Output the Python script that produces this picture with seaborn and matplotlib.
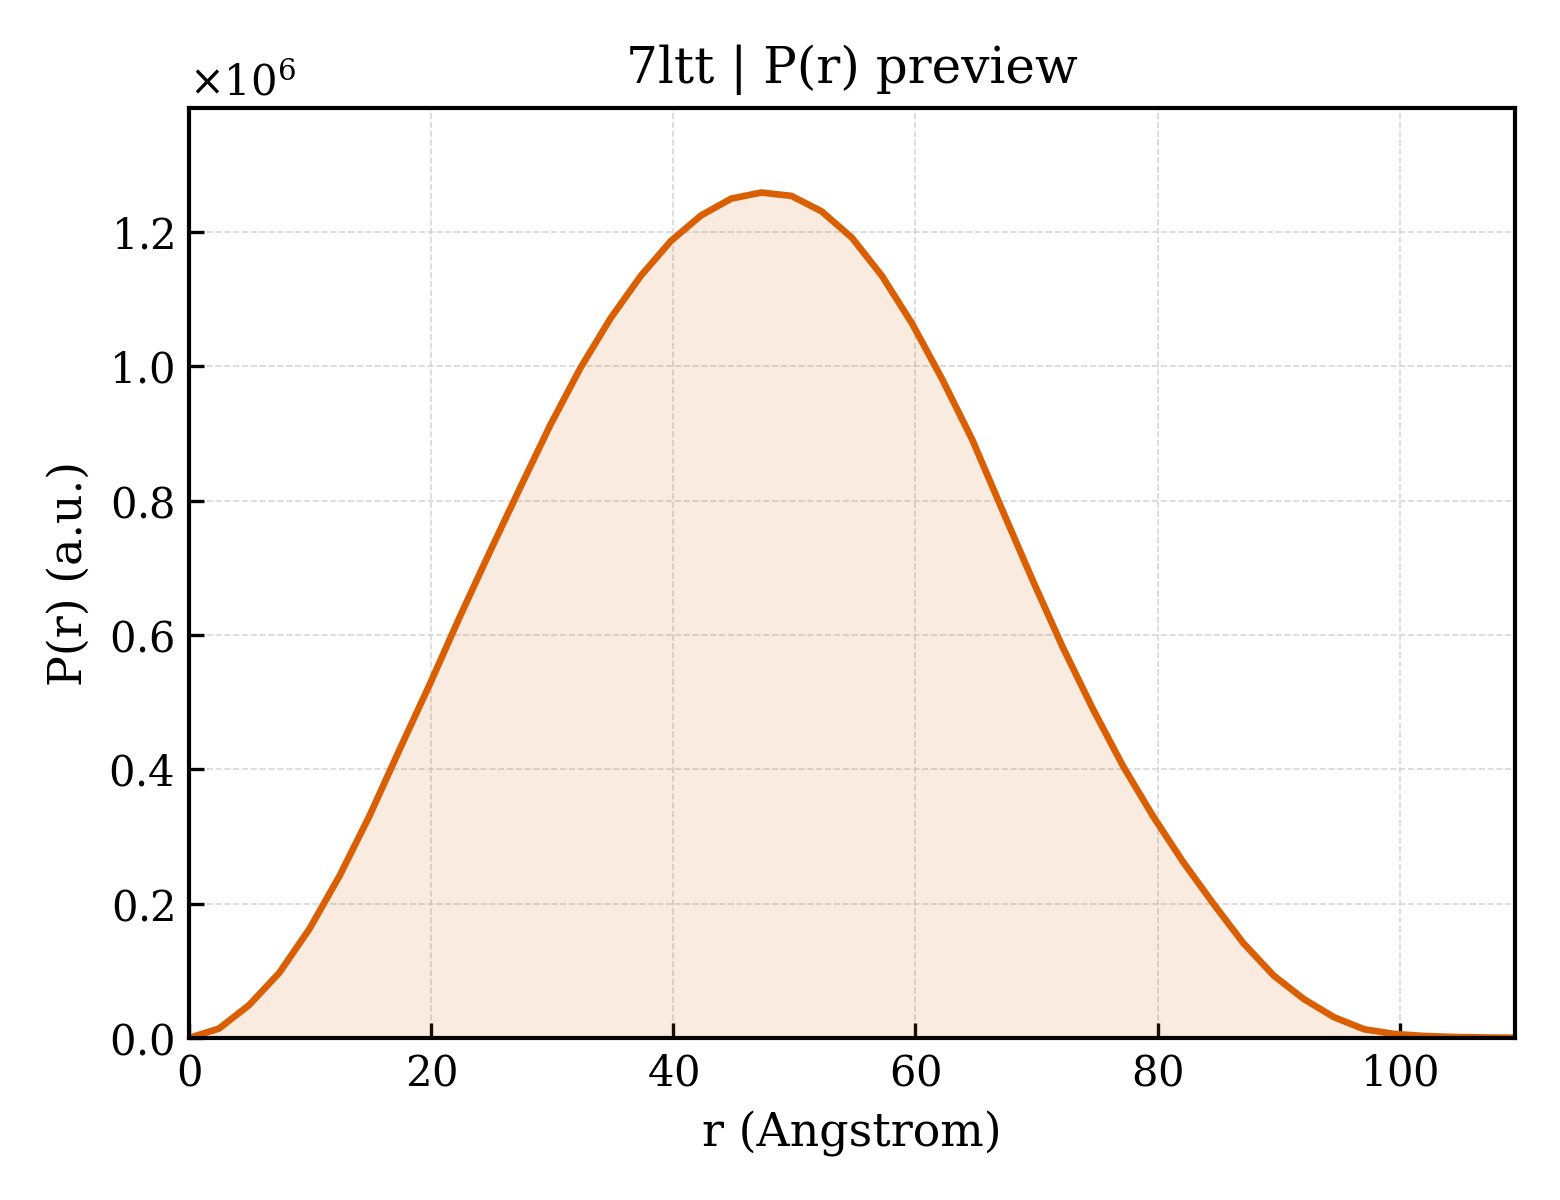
import numpy as np
import pandas as pd
import matplotlib
matplotlib.use("Agg")
import matplotlib.pyplot as plt
import seaborn as sns

# P(r) preview values (P in units of 1e6)
r_angstrom = [0.0, 2.49, 4.98, 7.47, 9.95, 12.44, 14.93, 17.42, 19.91, 22.40,
              24.89, 27.38, 29.86, 32.35, 34.84, 37.33, 39.82, 42.31, 44.80, 47.28,
              49.77, 52.26, 54.75, 57.24, 59.73, 62.22, 64.70, 67.19, 69.68, 72.17,
              74.66, 77.15, 79.64, 82.12, 84.61, 87.10, 89.59, 92.08, 94.57, 97.06,
              99.55, 102.03, 104.52, 107.01, 109.5]
p_r_e6 = [0.0, 0.014, 0.049, 0.097, 0.162, 0.241, 0.331, 0.430, 0.527, 0.628,
          0.725, 0.820, 0.913, 0.998, 1.072, 1.135, 1.187, 1.225, 1.250, 1.259,
          1.254, 1.231, 1.192, 1.135, 1.064, 0.981, 0.891, 0.786, 0.682, 0.582,
          0.490, 0.405, 0.330, 0.262, 0.200, 0.141, 0.093, 0.058, 0.031, 0.013,
          0.006, 0.003, 0.0015, 0.0008, 0.0004]

df = pd.DataFrame({"r": r_angstrom, "P": np.array(p_r_e6) * 1e6})
line_color = "#d95f02"

sns.set_style("ticks")
plt.rcParams["font.family"] = ["DejaVu Serif"]
plt.rcParams["mathtext.fontset"] = "dejavuserif"
plt.rcParams["axes.formatter.use_mathtext"] = True
plt.rcParams["text.color"] = "black"
plt.rcParams["axes.labelcolor"] = "black"

fig, ax = plt.subplots(figsize=(5.2, 4), dpi=300)
fig.subplots_adjust(left=0.121, right=0.971, bottom=0.135, top=0.91)

ax.fill_between(df["r"], df["P"], color=line_color, alpha=0.12, linewidth=0)
sns.lineplot(data=df, x="r", y="P", ax=ax, color=line_color, linewidth=1.6)

ax.set_xlim(0, df["r"].max())
ax.set_ylim(0, df["P"].max() * 1.1)
ax.grid(True, linestyle="--", linewidth=0.4, color="#cccccc", alpha=0.8)

for s in ax.spines.values():
    s.set_visible(True)
    s.set_linewidth(1.0)
    s.set_color("black")
ax.tick_params(direction="in", length=3.5, width=0.8, labelsize=10, colors="black")
ax.yaxis.get_offset_text().set_fontsize(10)
ax.yaxis.get_offset_text().set_color("black")

ax.set_xlabel("r (Angstrom)", fontsize=11, color="black")
ax.set_ylabel("P(r) (a.u.)", fontsize=11, color="black")
ax.set_title("7ltt | P(r) preview", fontsize=12, color="black")

fig.savefig("out.png", dpi=300)
